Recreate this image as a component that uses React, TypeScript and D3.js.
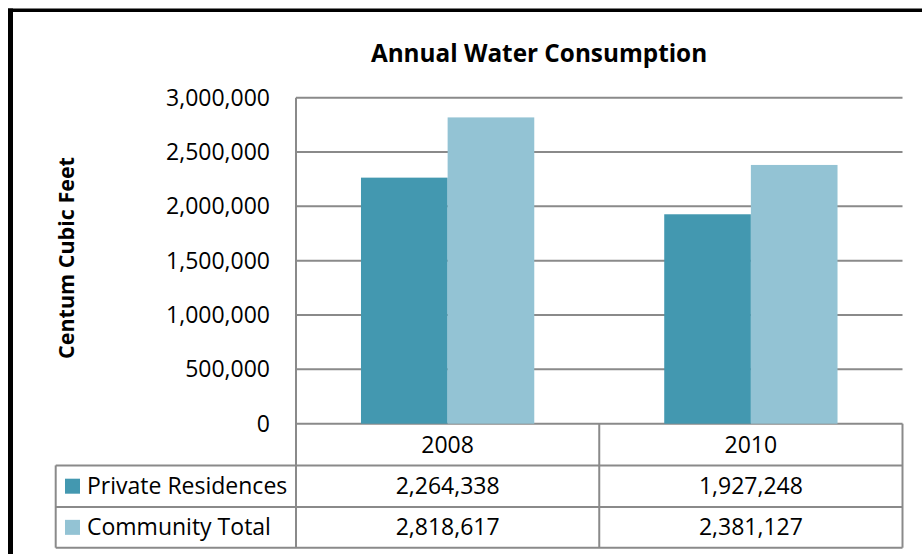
import React from "react";
import * as d3 from "d3";

const categories = ["2008", "2010"];
const seriesNames = ["Private Residences", "Community Total"];
const privateResidences = [2264338, 1927248];
const communityTotal = [2818617, 2381127];
const yTicks = [0, 500000, 1000000, 1500000, 2000000, 2500000, 3000000];
const colors = ["#4398B0", "#93C3D4"];

const W = 922;
const H = 554;
const FONT = "'Open Sans', 'Noto Sans', sans-serif";

export default function App() {
  const plotLeft = 296;
  const plotRight = 902.5;
  const yTop = 97.7;
  const yZero = 423.7;
  const rowLines = [423.7, 465.4, 507.0, 547.7];
  const tableLeft = 55.7;
  const gridColor = "#8A8A8A";

  const y = d3.scaleLinear().domain([0, 3000000]).range([yZero, yTop]);
  const x0 = d3.scaleBand<string>().domain(categories).range([plotLeft, plotRight]).padding(0);
  const bw = x0.bandwidth();
  const groupW = (bw * 2) / 3.5;
  const offset = (bw - groupW) / 2;
  const x1 = d3.scaleBand<string>().domain(seriesNames).range([0, groupW]).padding(0);
  const seriesValues = [privateResidences, communityTotal];
  const fmt = d3.format(",");

  return (
    <svg
      width={W}
      height={H}
      style={{ position: "absolute", left: 0, top: 0, display: "block" }}
      fontFamily={FONT}
    >
      <rect x={0} y={0} width={W} height={H} fill="#ffffff" />
      {/* frame */}
      <rect x={8} y={8.5} width={W - 8} height={3.5} fill="#000" />
      <rect x={8} y={8.5} width={5} height={H - 8.5} fill="#000" />

      {/* title */}
      <text x={539} y={61.8} textAnchor="middle" fontWeight="bold" fontSize={24.3} fill="#000">
        Annual Water Consumption
      </text>

      {/* y axis title */}
      <text
        transform={`translate(74,258) rotate(-90)`}
        textAnchor="middle"
        fontWeight="bold"
        fontSize={21.5}
        fill="#000"
      >
        Centum Cubic Feet
      </text>

      {/* gridlines */}
      {yTicks.map((t) => (
        <line key={t} x1={plotLeft} x2={plotRight} y1={y(t)} y2={y(t)} stroke={gridColor} strokeWidth={2} />
      ))}
      {/* tick labels */}
      {yTicks.map((t) => (
        <text key={"l" + t} x={270} y={y(t)} dy="0.35em" textAnchor="end" fontSize={23} fill="#000">
          {fmt(t)}
        </text>
      ))}

      {/* bars */}
      {categories.map((c, ci) =>
        seriesNames.map((s, si) => {
          const v = seriesValues[si][ci];
          return (
            <rect
              key={c + s}
              x={(x0(c) as number) + offset + (x1(s) as number)}
              y={y(v)}
              width={x1.bandwidth()}
              height={yZero - y(v)}
              fill={colors[si]}
            />
          );
        })
      )}

      {/* table lines */}
      <line x1={plotLeft} x2={plotLeft} y1={yTop} y2={rowLines[3]} stroke={gridColor} strokeWidth={2} />
      {rowLines.slice(1).map((ly, i) => (
        <line key={"r" + i} x1={tableLeft} x2={plotRight} y1={ly} y2={ly} stroke={gridColor} strokeWidth={2} />
      ))}
      <line x1={tableLeft} x2={tableLeft} y1={rowLines[1]} y2={rowLines[3]} stroke={gridColor} strokeWidth={2} />
      {categories.map((c) => (
        <line
          key={"v" + c}
          x1={(x0(c) as number) + bw}
          x2={(x0(c) as number) + bw}
          y1={rowLines[0]}
          y2={rowLines[3]}
          stroke={gridColor}
          strokeWidth={2}
        />
      ))}

      {/* header row */}
      {categories.map((c) => (
        <text
          key={"h" + c}
          x={(x0(c) as number) + bw / 2}
          y={(rowLines[0] + rowLines[1]) / 2}
          dy="0.35em"
          textAnchor="middle"
          fontSize={23}
          fill="#000"
        >
          {c}
        </text>
      ))}

      {/* data rows */}
      {seriesNames.map((s, si) => {
        const cy = (rowLines[si + 1] + rowLines[si + 2]) / 2;
        return (
          <g key={"row" + s}>
            <rect x={65} y={cy - 7.5} width={15} height={15} fill={colors[si]} />
            <text x={87} y={cy} dy="0.35em" fontSize={23} fill="#000">
              {s}
            </text>
            {categories.map((c, ci) => (
              <text
                key={c}
                x={(x0(c) as number) + bw / 2}
                y={cy}
                dy="0.35em"
                textAnchor="middle"
                fontSize={23}
                fill="#000"
              >
                {fmt(seriesValues[si][ci])}
              </text>
            ))}
          </g>
        );
      })}
    </svg>
  );
}
